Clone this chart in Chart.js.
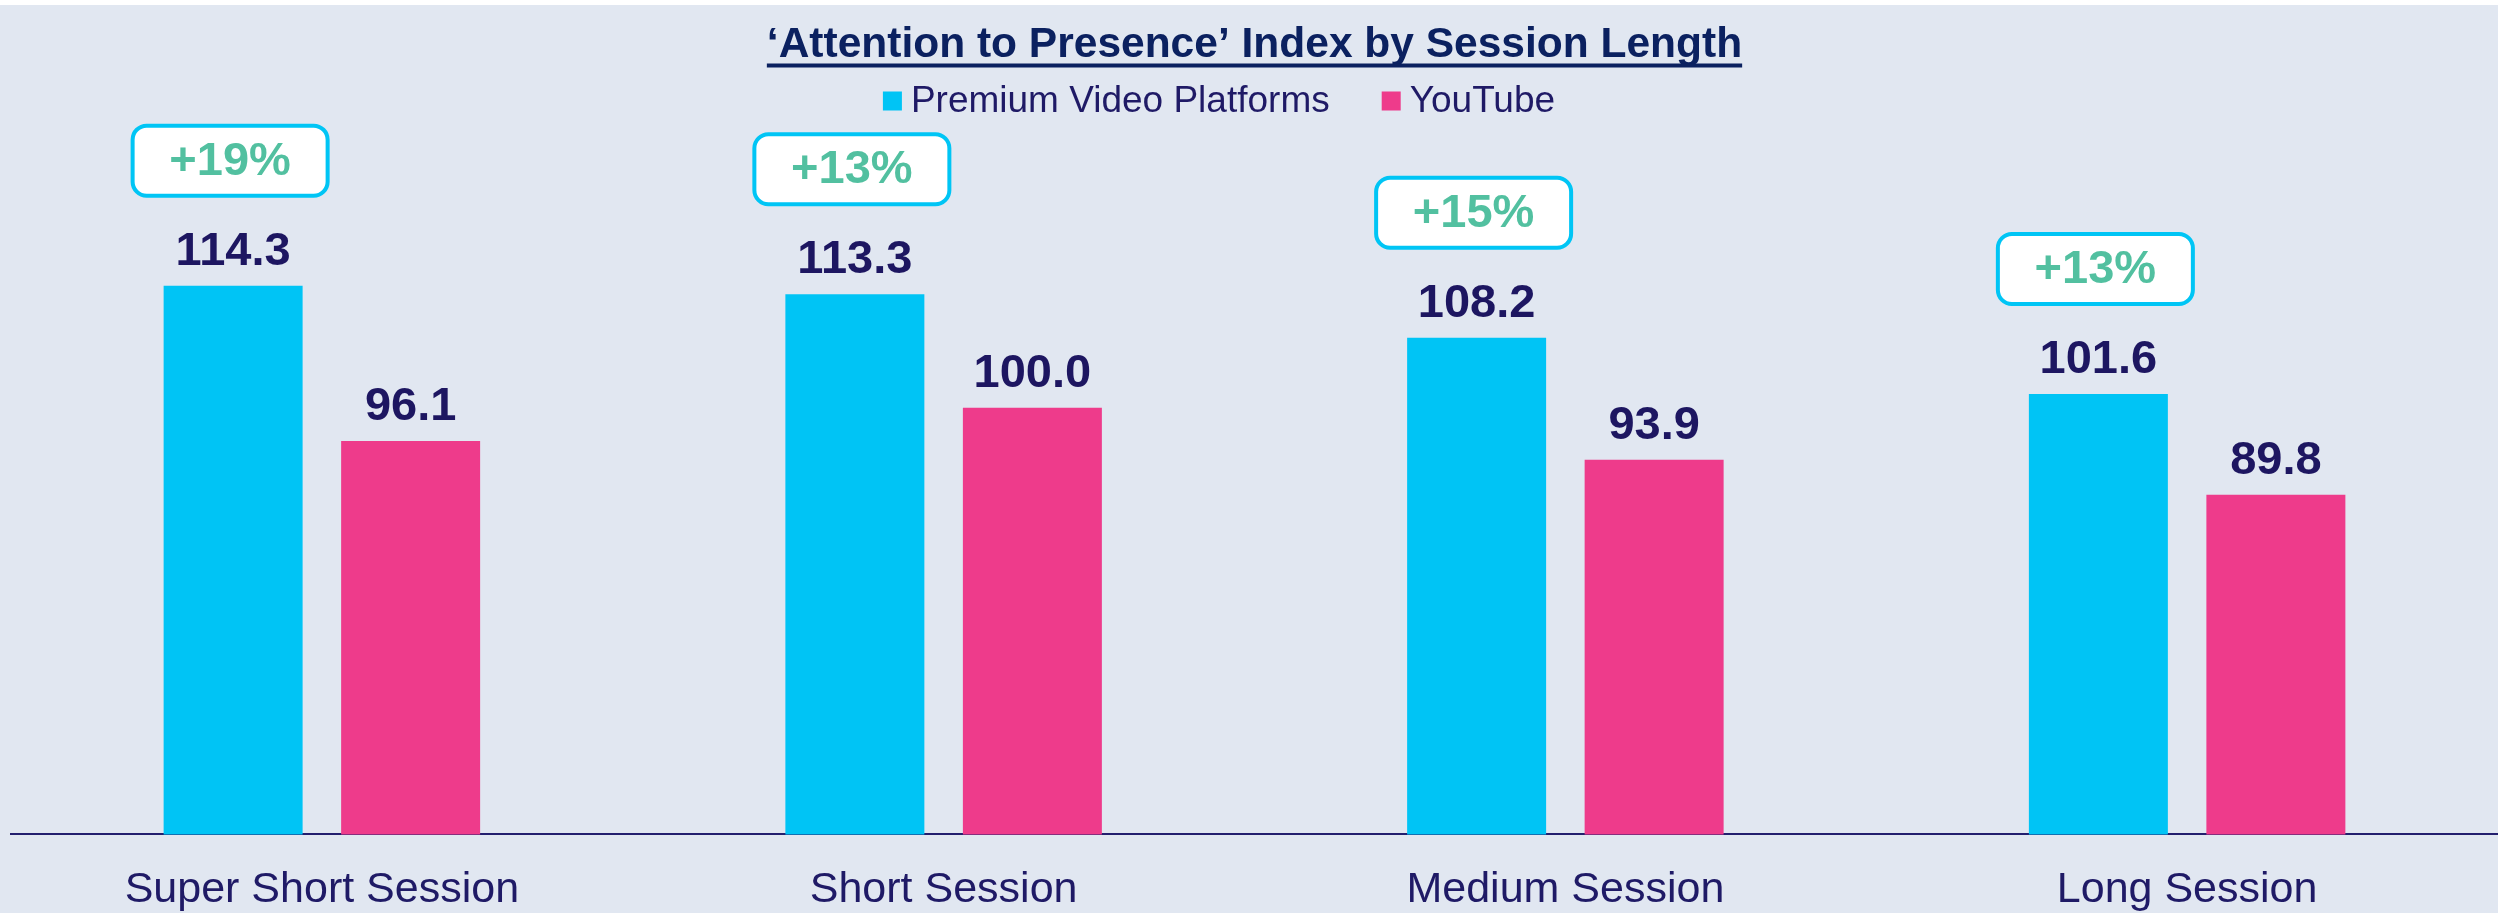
<!DOCTYPE html>
<html>
<head>
<meta charset="utf-8">
<script src="https://cdn.jsdelivr.net/npm/chart.js@4.4.1/dist/chart.umd.min.js"></script>
<style>
  html, body { margin: 0; padding: 0; background: #ffffff; overflow: hidden; }
  #wrap { margin-top: 5px; width: 2498px; height: 908px; background: #e1e7f1; overflow: hidden; }
  #box { width: 2498px; height: 943px; }
</style>
</head>
<body>
<div id="wrap"><div id="box"><canvas id="chart"></canvas></div></div>
<script>
// data
const categories = ['Super Short Session', 'Short Session', 'Medium Session', 'Long Session'];
const seriesNames = ['Premium Video Platforms', 'YouTube'];
const premiumValues = [114.3, 113.3, 108.2, 101.6];
const youtubeValues = [96.1, 100.0, 93.9, 89.8];
const upliftLabels = ['+19%', '+13%', '+15%', '+13%'];

const FONT = '"Liberation Sans", Arial, sans-serif';
const NAVY = '#1f1a66';
const BLUE = '#00c4f5';
const PINK = '#ee3b8b';

// value labels, uplift boxes, title underline and the legend
const decorations = {
  id: 'decorations',
  afterDatasetsDraw(chart) {
    const ctx = chart.ctx;
    ctx.save();
    ctx.textAlign = 'center';
    ctx.textBaseline = 'alphabetic';
    ctx.font = 'bold 47px ' + FONT;
    ctx.fillStyle = '#1d1661';
    chart.data.datasets.forEach((ds, i) => {
      chart.getDatasetMeta(i).data.forEach((bar, j) => {
        ctx.fillText(ds.data[j].toFixed(1), bar.x, bar.y - 21);
      });
    });

    chart.getDatasetMeta(0).data.forEach((bar, j) => {
      const w = 195, h = 70;
      const x = bar.x - w / 2 - 3;
      const y = bar.y - 90 - h;
      ctx.beginPath();
      ctx.roundRect(x, y, w, h, 14);
      ctx.fillStyle = '#ffffff';
      ctx.fill();
      ctx.lineWidth = 4;
      ctx.strokeStyle = '#00c5f5';
      ctx.stroke();
      ctx.fillStyle = '#52c0a0';
      ctx.textBaseline = 'middle';
      ctx.fillText(upliftLabels[j], x + w / 2, y + h / 2 + 1);
    });
    ctx.restore();
  },
  afterDraw(chart) {
    const ctx = chart.ctx;
    const t = chart.titleBlock;
    ctx.save();
    // underline under the title
    ctx.font = 'bold 42.5px ' + FONT;
    const tw = ctx.measureText(t.options.text).width;
    const cx = (t.left + t.right) / 2;
    const mid = t.top + 15 + 25.5;
    ctx.fillStyle = '#0b2160';
    ctx.fillRect(cx - tw / 2, mid + 18, tw, 4);

    // legend row
    ctx.font = '37px ' + FONT;
    ctx.textBaseline = 'middle';
    ctx.textAlign = 'left';
    const colors = [BLUE, PINK];
    const widths = seriesNames.map(n => ctx.measureText(n).width);
    const total = widths.reduce((a, b) => a + b, 0) + 2 * (19 + 9) + 52;
    let x = chart.width / 2 - total / 2 - 30;
    const y = 96;
    seriesNames.forEach((name, i) => {
      ctx.fillStyle = colors[i];
      ctx.fillRect(x, y - 9.5, 19, 19);
      ctx.fillStyle = NAVY;
      ctx.fillText(name, x + 28, y + 1);
      x += 28 + widths[i] + 52;
    });
    ctx.restore();
  }
};

new Chart(document.getElementById('chart'), {
  type: 'bar',
  data: {
    labels: categories,
    datasets: [
      {
        label: seriesNames[0],
        data: premiumValues,
        backgroundColor: BLUE,
        categoryPercentage: 0.571,
        barPercentage: 0.783
      },
      {
        label: seriesNames[1],
        data: youtubeValues,
        backgroundColor: PINK,
        categoryPercentage: 0.571,
        barPercentage: 0.783
      }
    ]
  },
  options: {
    responsive: true,
    maintainAspectRatio: false,
    animation: false,
    layout: { padding: { left: 11, right: 0, top: 0, bottom: 2 } },
    plugins: {
      title: {
        display: true,
        text: '\u2018Attention to Presence\u2019 Index by Session Length',
        color: '#0b2160',
        font: { family: FONT, size: 42.5, weight: 'bold' },
        // bottom padding leaves room for the legend row
        padding: { top: 15, bottom: 58.5 }
      },
      legend: { display: false },
      tooltip: { enabled: false }
    },
    scales: {
      x: {
        grid: { display: false, drawTicks: false },
        border: { display: true, color: '#231f6e', width: 2 },
        ticks: {
          color: NAVY,
          font: { family: FONT, size: 43 },
          padding: 30
        }
      },
      y: {
        display: false,
        min: 50,
        max: 132.6
      }
    }
  },
  plugins: [decorations]
});
</script>
</body>
</html>
